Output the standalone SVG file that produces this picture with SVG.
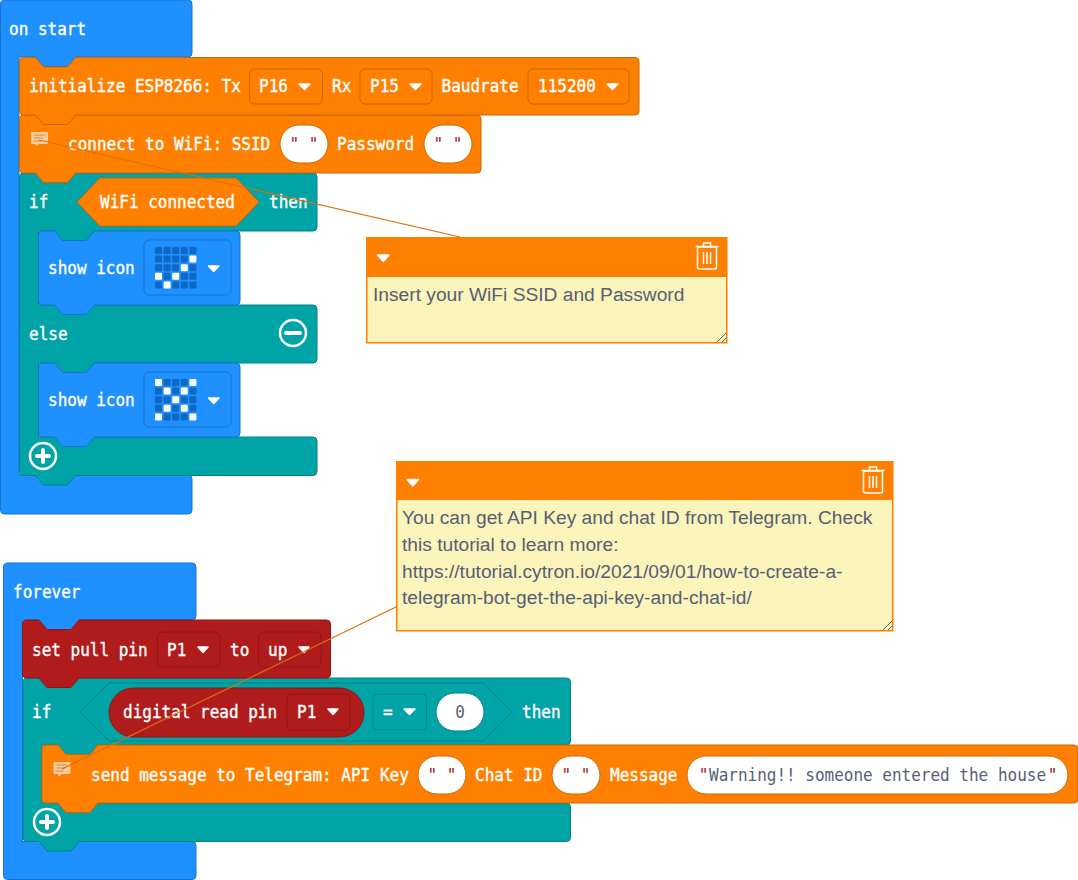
<svg xmlns="http://www.w3.org/2000/svg" width="1078" height="880" viewBox="0 0 1078 880">
<style>
text{white-space:pre}
.t{font:500 18px "DejaVu Sans Mono",monospace;fill:#fff;stroke:#fff;stroke-width:.4}
.q{font:18px "DejaVu Sans Mono",monospace;fill:#a31515;text-anchor:middle}
.v{font:18px "DejaVu Sans Mono",monospace;fill:#575e75}
.n{font:19.200px "Liberation Sans",Arial,sans-serif;fill:#575e75}
.blue{fill:#1e90ff;stroke:#1873cc;stroke-width:1}
.or{fill:#ff8000;stroke:#cc6600;stroke-width:1}
.teal{fill:#00a4a6;stroke:#008385;stroke-width:1}
.red{fill:#b01c1c;stroke:#8d1616;stroke-width:1}
.f{fill:none;stroke-width:1}
.fo{stroke:#cc6600}.fr{stroke:#8d1616}.fb{stroke:#1873cc}.ft{stroke:#008385}
.s{fill:#fff;stroke:#cc6600;stroke-width:1}
.tri{fill:#fff;stroke:#fff;stroke-width:1.500;stroke-linejoin:round}
.ring{fill:none;stroke:#fff;stroke-width:2.500}
.bar{stroke:#fff;stroke-width:4;stroke-linecap:round}
.off{fill:#0f68c4}.on{fill:#fff}
.ci{fill:#ffcc99}.cl{stroke:#cc8a4d;stroke-width:1}
.body{fill:#fbf4bb;stroke:#ff8000;stroke-width:1.500}
.head{fill:#ff8000}
.tr{fill:none;stroke:#fff;stroke-width:1.500}
.grip{stroke:#575e75;stroke-width:1}
.link{stroke:#d9700a;stroke-width:1.200;fill:none}
</style>
<defs>
<g id="led"><rect width="7" height="7" rx="1"/></g>
<g id="trash" class="tr"><rect x="2" y="6" width="19" height="22" rx="2"/><path d="M0 5.500H23M8 5.500V2H15V5.500M8 11V23M11.500 11V23M15 11V23"/></g>
<g id="comment-icon"><path class="ci" d="M0 1a1 1 0 0 1 1-1H16a1 1 0 0 1 1 1V11a1 1 0 0 1-1 1H8L6 14.500L4 12H1a1 1 0 0 1-1-1Z"/><path class="cl" d="M3 3H14M3 6H12M3 9H10"/></g>
</defs>

<g id="on-start">
<path class="blue" d="M.5 4a4 4 0 0 1 4-4H188a4 4 0 0 1 4 4V53a4 4 0 0 1-4 4H75.500l-8 9.500h-24l-8-9.500H19V475H188a4 4 0 0 1 4 4V510a4 4 0 0 1-4 4H4.500a4 4 0 0 1-4-4Z"/>
<text class="t" transform="translate(9 35) scale(.8896 1)">on start</text>
</g>
<g id="if-wifi">
<path class="teal" d="M19.500 177a4 4 0 0 1 4-4H313a4 4 0 0 1 4 4V227a4 4 0 0 1-4 4H94.500l-8 9.500h-24l-8-9.500H38.500V305H313a4 4 0 0 1 4 4V359a4 4 0 0 1-4 4H94.500l-8 9.500h-24l-8-9.500H38.500V437H313a4 4 0 0 1 4 4V471.500a4 4 0 0 1-4 4H75.500l-8 9.500h-24l-8-9.500H23.500a4 4 0 0 1-4-4Z"/>
<text class="t" transform="translate(29 208) scale(.8896 1)">if</text>
<text class="t" transform="translate(269 208) scale(.8896 1)">then</text>
<text class="t" transform="translate(29 340) scale(.8896 1)">else</text>
<circle class="ring" cx="293" cy="333" r="13"/><path class="bar" d="M286 333H300"/>
<circle class="ring" cx="43" cy="456" r="13"/><path class="bar" d="M37 456H49M43 450V462"/>
</g>
<g id="wifi-connected">
<path class="or" d="M77 202L100 178H236L259 202L236 226H100Z"/>
<text class="t" transform="translate(100 208) scale(.8896 1)">WiFi connected</text>
</g>
<g id="show-icon-check">
<path class="blue" d="M38.500 235a4 4 0 0 1 4-4H54.500l8 9.500h24l8-9.500H236a4 4 0 0 1 4 4V301a4 4 0 0 1-4 4H94.500l-8 9.500h-24l-8-9.500H42.500a4 4 0 0 1-4-4Z"/>
<text class="t" transform="translate(48 274) scale(.8896 1)">show icon</text>
<rect class="f fb" x="144" y="240" width="87" height="55" rx="5"/>
<g class="off">
<use href="#led" x="155" y="247"/><use href="#led" x="163.600" y="247"/><use href="#led" x="172.200" y="247"/><use href="#led" x="180.800" y="247"/><use href="#led" x="189.400" y="247"/>
<use href="#led" x="155" y="255.600"/><use href="#led" x="163.600" y="255.600"/><use href="#led" x="172.200" y="255.600"/><use href="#led" x="180.800" y="255.600"/>
<use href="#led" x="155" y="264.200"/><use href="#led" x="163.600" y="264.200"/><use href="#led" x="172.200" y="264.200"/><use href="#led" x="189.400" y="264.200"/>
<use href="#led" x="163.600" y="272.800"/><use href="#led" x="180.800" y="272.800"/><use href="#led" x="189.400" y="272.800"/>
<use href="#led" x="155" y="281.400"/><use href="#led" x="172.200" y="281.400"/><use href="#led" x="180.800" y="281.400"/><use href="#led" x="189.400" y="281.400"/>
</g>
<g class="on">
<use href="#led" x="189.400" y="255.600"/><use href="#led" x="180.800" y="264.200"/><use href="#led" x="155" y="272.800"/><use href="#led" x="172.200" y="272.800"/><use href="#led" x="163.600" y="281.400"/>
</g>
<path class="tri" d="M208.500 266H219L213.700 271.500Z"/>
</g>
<g id="show-icon-cross">
<path class="blue" d="M38.500 367a4 4 0 0 1 4-4H54.500l8 9.500h24l8-9.500H236a4 4 0 0 1 4 4V433a4 4 0 0 1-4 4H94.500l-8 9.500h-24l-8-9.500H42.500a4 4 0 0 1-4-4Z"/>
<text class="t" transform="translate(48 406) scale(.8896 1)">show icon</text>
<rect class="f fb" x="144" y="372" width="87" height="55" rx="5"/>
<g class="off">
<use href="#led" x="163.600" y="379"/><use href="#led" x="172.200" y="379"/><use href="#led" x="180.800" y="379"/>
<use href="#led" x="155" y="387.600"/><use href="#led" x="172.200" y="387.600"/><use href="#led" x="189.400" y="387.600"/>
<use href="#led" x="155" y="396.200"/><use href="#led" x="163.600" y="396.200"/><use href="#led" x="180.800" y="396.200"/><use href="#led" x="189.400" y="396.200"/>
<use href="#led" x="155" y="404.800"/><use href="#led" x="172.200" y="404.800"/><use href="#led" x="189.400" y="404.800"/>
<use href="#led" x="163.600" y="413.400"/><use href="#led" x="172.200" y="413.400"/><use href="#led" x="180.800" y="413.400"/>
</g>
<g class="on">
<use href="#led" x="155" y="379"/><use href="#led" x="189.400" y="379"/><use href="#led" x="163.600" y="387.600"/><use href="#led" x="180.800" y="387.600"/><use href="#led" x="172.200" y="396.200"/><use href="#led" x="163.600" y="404.800"/><use href="#led" x="180.800" y="404.800"/><use href="#led" x="155" y="413.400"/><use href="#led" x="189.400" y="413.400"/>
</g>
<path class="tri" d="M208.500 398H219L213.700 403.500Z"/>
</g>
<g id="connect-wifi">
<path class="or" d="M19.500 119a4 4 0 0 1 4-4H35.500l8 9.500h24l8-9.500H477a4 4 0 0 1 4 4V169a4 4 0 0 1-4 4H75.500l-8 9.500h-24l-8-9.500H23.500a4 4 0 0 1-4-4Z"/>
<use href="#comment-icon" x="31" y="132"/>
<text class="t" transform="translate(68 150) scale(.8896 1)">connect to WiFi: SSID</text>
<rect class="s" x="280" y="125" width="48" height="38" rx="19"/><text class="q" transform="translate(304 150) scale(.8896 1)">" "</text>
<text class="t" transform="translate(337 150) scale(.8896 1)">Password</text>
<rect class="s" x="424" y="125" width="48" height="38" rx="19"/><text class="q" transform="translate(448 150) scale(.8896 1)">" "</text>
</g>
<g id="init-esp">
<path class="or" d="M19.500 61.500a4 4 0 0 1 4-4H35.500l8 9.500h24l8-9.500H635a4 4 0 0 1 4 4V111a4 4 0 0 1-4 4H75.500l-8 9.500h-24l-8-9.500H23.500a4 4 0 0 1-4-4Z"/>
<text class="t" transform="translate(29 92) scale(.8896 1)">initialize ESP8266: Tx</text>
<rect class="f fo" x="249.500" y="69" width="73" height="35" rx="5"/><text class="t" transform="translate(259 92) scale(.8896 1)">P16</text><path class="tri" d="M299 84H310L304.500 89.500Z"/>
<text class="t" transform="translate(332 92) scale(.8896 1)">Rx</text>
<rect class="f fo" x="360" y="69" width="72" height="35" rx="5"/><text class="t" transform="translate(370 92) scale(.8896 1)">P15</text><path class="tri" d="M410 84H421L415.500 89.500Z"/>
<text class="t" transform="translate(441.500 92) scale(.8896 1)">Baudrate</text>
<rect class="f fo" x="528" y="69" width="101" height="35" rx="5"/><text class="t" transform="translate(538 92) scale(.8896 1)">115200</text><path class="tri" d="M607 84H618L612.500 89.500Z"/>
</g>

<g id="forever">
<path class="blue" d="M3.500 567a4 4 0 0 1 4-4H192a4 4 0 0 1 4 4V616a4 4 0 0 1-4 4H79l-8 9.500h-24l-8-9.500H22.500V841.500H192a4 4 0 0 1 4 4V875.500a4 4 0 0 1-4 4H7.500a4 4 0 0 1-4-4Z"/>
<text class="t" transform="translate(13 598) scale(.8896 1)">forever</text>
</g>
<g id="if-pin">
<path class="teal" d="M23 682a4 4 0 0 1 4-4H566.500a4 4 0 0 1 4 4V741a4 4 0 0 1-4 4H98l-8 9.500h-24l-8-9.500H42V803H566.500a4 4 0 0 1 4 4V837.500a4 4 0 0 1-4 4H79l-8 9.500h-24l-8-9.500H27a4 4 0 0 1-4-4Z"/>
<text class="t" transform="translate(32 718) scale(.8896 1)">if</text>
<path class="f ft" d="M80 712L109 683H483.500L512 712L483.500 741H109Z"/>
<rect class="f ft" x="373" y="694" width="53.500" height="36" rx="5"/>
<text class="t" transform="translate(383 718) scale(.8896 1)">=</text><path class="tri" d="M404 709H415L409.500 714.500Z"/>
<rect x="436" y="693" width="48" height="38" rx="19" fill="#fff" stroke="#008385"/>
<text class="v" text-anchor="middle" transform="translate(460 718) scale(.8896 1)">0</text>
<text class="t" transform="translate(522 718) scale(.8896 1)">then</text>
<circle class="ring" cx="47" cy="822" r="13"/><path class="bar" d="M41 822H53M47 816V828"/>
</g>
<g id="digital-read">
<rect class="red" x="109" y="688" width="255" height="49" rx="24.500"/>
<text class="t" transform="translate(123 718) scale(.8896 1)">digital read pin</text>
<rect class="f fr" x="287" y="694" width="63" height="36" rx="5"/><text class="t" transform="translate(297 718) scale(.8896 1)">P1</text><path class="tri" d="M328 709H338L333 714.500Z"/>
</g>
<g id="send-telegram">
<path class="or" d="M42 749a4 4 0 0 1 4-4H58l8 9.500h24l8-9.500H1074a4 4 0 0 1 4 4V799a4 4 0 0 1-4 4H98l-8 9.500h-24l-8-9.500H46a4 4 0 0 1-4-4Z"/>
<use href="#comment-icon" x="53.500" y="762"/>
<text class="t" transform="translate(91 781) scale(.8896 1)">send message to Telegram: API Key</text>
<rect class="s" x="418" y="756" width="48" height="38" rx="19"/><text class="q" transform="translate(442 781) scale(.8896 1)">" "</text>
<text class="t" transform="translate(475 781) scale(.8896 1)">Chat ID</text>
<rect class="s" x="552" y="756" width="48" height="38" rx="19"/><text class="q" transform="translate(576 781) scale(.8896 1)">" "</text>
<text class="t" transform="translate(610 781) scale(.8896 1)">Message</text>
<rect class="s" x="687" y="756" width="381" height="38" rx="19"/>
<text class="q" transform="translate(703.500 781) scale(.8896 1)">"</text><text class="v" transform="translate(709 781) scale(.8896 1)">Warning!! someone entered the house</text><text class="q" transform="translate(1052.500 781) scale(.8896 1)">"</text>
</g>
<g id="set-pull">
<path class="red" d="M22.500 624a4 4 0 0 1 4-4H39l8 9.500h24l8-9.500H326.500a4 4 0 0 1 4 4V674a4 4 0 0 1-4 4H79l-8 9.500h-24l-8-9.500H26.500a4 4 0 0 1-4-4Z"/>
<text class="t" transform="translate(32 656) scale(.8896 1)">set pull pin</text>
<rect class="f fr" x="157.500" y="632" width="62.500" height="35" rx="5"/><text class="t" transform="translate(167 656) scale(.8896 1)">P1</text><path class="tri" d="M198 647H208L203 652.500Z"/>
<text class="t" transform="translate(230 656) scale(.8896 1)">to</text>
<rect class="f fr" x="258.500" y="632" width="62.500" height="35" rx="5"/><text class="t" transform="translate(268 656) scale(.8896 1)">up</text><path class="tri" d="M299 647H309L304 652.500Z"/>
</g>

<g id="connectors">
<path class="link" d="M39 140L460 237"/>
<path class="link" d="M62 769L398 606"/>
</g>

<g id="comment-wifi">
<rect class="body" x="366.750" y="237.750" width="360" height="105"/>
<rect class="head" x="366" y="237" width="361" height="40"/>
<path class="tri" d="M377.500 255H389L383.300 261.500Z"/>
<use href="#trash" x="695.500" y="241"/>
<text class="n" x="373" y="301">Insert your WiFi SSID and Password</text>
<path class="grip" d="M717 342L726 333M722 342L726 338"/>
</g>
<g id="comment-telegram">
<rect class="body" x="396.750" y="461.750" width="496" height="169"/>
<rect class="head" x="396" y="461" width="497" height="39"/>
<path class="tri" d="M407 479.500H418.500L412.800 486Z"/>
<use href="#trash" x="861.500" y="465"/>
<text class="n" x="402" y="524">You can get API Key and chat ID from Telegram. Check</text>
<text class="n" x="402" y="551">this tutorial to learn more:</text>
<text class="n" x="402" y="577.500">https://tutorial.cytron.io/2021/09/01/how-to-create-a-</text>
<text class="n" x="402" y="604">telegram-bot-get-the-api-key-and-chat-id/</text>
<path class="grip" d="M883 630L892 621M888 630L892 626"/>
</g>
</svg>
